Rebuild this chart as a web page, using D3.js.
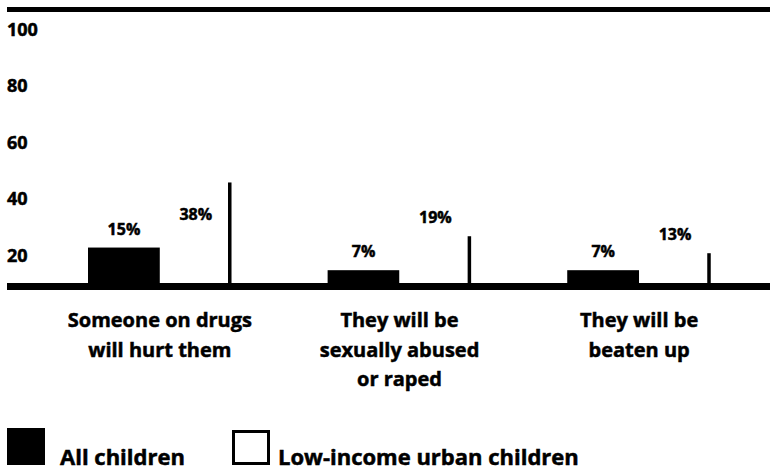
<!DOCTYPE html>
<html>
<head>
<meta charset="utf-8">
<script src="https://cdn.jsdelivr.net/npm/d3@7"></script>
<style>
  html, body { margin: 0; padding: 0; background: #fff; }
  svg { display: block; }
  text { font-family: "Open Sans", "Lato", sans-serif; font-weight: 700; fill: #000; stroke: #000; stroke-width: 0.5px; }
</style>
</head>
<body>
<svg id="chart" width="770" height="474"></svg>
<script>
// Share of children who fear each kind of harm (%)
const categories = [
  ["Someone on drugs", "will hurt them"],
  ["They will be", "sexually abused", "or raped"],
  ["They will be", "beaten up"]
];
const seriesNames = ["All children", "Low-income urban children"];
const allChildren = [15, 7, 7];
const lowIncomeUrban = [38, 19, 13];
const yTicks = [20, 40, 60, 80, 100];

const svg = d3.select("#chart");
const W = 770;

const catKeys = categories.map(c => c.join(" "));
const x = d3.scaleBand().domain(catKeys).range([88, 711]).paddingInner(0.4).paddingOuter(0);
const xs = d3.scaleBand().domain(seriesNames).range([0, x.bandwidth()]).padding(0);
const y = d3.scaleLinear().domain([0, 100]).range([290, 7]);

// Value axis: labels sit just below each tick level
const yAxis = d3.axisLeft(y).tickValues(yTicks).tickSize(0).tickFormat(d3.format("d"));
const gy = svg.append("g").attr("transform", "translate(7,0)").call(yAxis);
gy.select(".domain").remove();
gy.selectAll("text")
  .attr("x", 0)
  .attr("dy", 28)
  .attr("text-anchor", "start")
  .attr("fill", "#000")
  .style("font-size", "18px")
  .style("font-family", "'Open Sans', sans-serif")
  .style("font-weight", 700);

// Top rule at 100
svg.append("rect").attr("x", 7).attr("y", y(100)).attr("width", W - 7).attr("height", 5).attr("fill", "#000");

const rows = catKeys.map((k, i) => ({ key: k, lines: categories[i], values: [allChildren[i], lowIncomeUrban[i]] }));

const groups = svg.selectAll("g.grp").data(rows).join("g")
  .attr("class", "grp")
  .attr("transform", d => `translate(${x(d.key)},0)`);

const bars = groups.selectAll("g.bar")
  .data(d => d.values.map((v, j) => ({ series: seriesNames[j], v, j })))
  .join("g").attr("class", "bar");

// All children: solid black bars
bars.filter(d => d.j === 0).append("rect")
  .attr("x", d => xs(d.series))
  .attr("y", d => y(d.v))
  .attr("width", xs.bandwidth())
  .attr("height", d => y(0) - y(d.v))
  .attr("fill", "#000");

// Low-income urban children: white bars, right edge ruled
bars.filter(d => d.j === 1).append("rect")
  .attr("x", d => xs(d.series))
  .attr("y", d => y(d.v))
  .attr("width", xs.bandwidth())
  .attr("height", d => y(0) - y(d.v))
  .attr("fill", "#fff");
bars.filter(d => d.j === 1).append("line")
  .attr("x1", d => xs(d.series) + xs.bandwidth() - 2)
  .attr("x2", d => xs(d.series) + xs.bandwidth() - 2)
  .attr("y1", d => y(d.v))
  .attr("y2", y(0))
  .attr("stroke", "#000")
  .attr("stroke-width", 3.5);

// Value labels, kept low so tall bars stay readable
bars.append("text")
  .attr("x", d => xs(d.series) + xs.bandwidth() / 2)
  .attr("y", d => y(Math.min(d.v, 20)) - 13)
  .attr("text-anchor", "middle")
  .style("font-size", "16px")
  .text(d => d.v + "%");

// Baseline rule
svg.append("rect").attr("x", 7).attr("y", y(0) - 7).attr("width", W - 7).attr("height", 7).attr("fill", "#000");

// Category labels
groups.append("text")
  .attr("x", x.bandwidth() / 2)
  .attr("y", 327)
  .attr("text-anchor", "middle")
  .style("font-size", "20px")
  .selectAll("tspan")
  .data(d => d.lines)
  .join("tspan")
  .attr("x", x.bandwidth() / 2)
  .attr("dy", (d, i) => i === 0 ? 0 : 29.5)
  .text(d => d);

// Legend
const legend = svg.append("g");
legend.append("rect").attr("x", 7).attr("y", 428).attr("width", 38).attr("height", 37).attr("fill", "#000");
legend.append("text").attr("x", 60).attr("y", 465).style("font-size", "22px").text(seriesNames[0]);
legend.append("rect").attr("x", 233.5).attr("y", 431.5).attr("width", 35).attr("height", 32)
  .attr("fill", "#fff").attr("stroke", "#000").attr("stroke-width", 3);
legend.append("text").attr("x", 278).attr("y", 465).style("font-size", "22px").text(seriesNames[1]);
</script>
</body>
</html>
